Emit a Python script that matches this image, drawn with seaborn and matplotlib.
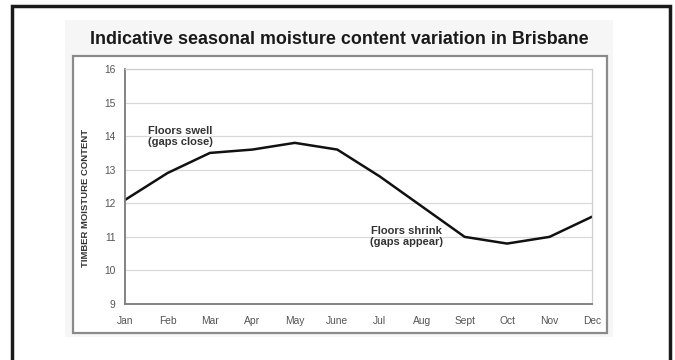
import matplotlib
matplotlib.use("Agg")
import matplotlib.pyplot as plt
from matplotlib.patches import Rectangle
import seaborn as sns
import pandas as pd

# --- Data ---
months = ["Jan", "Feb", "Mar", "Apr", "May", "June",
          "Jul", "Aug", "Sept", "Oct", "Nov", "Dec"]
moisture = [12.1, 12.9, 13.5, 13.6, 13.8, 13.6,
            12.8, 11.9, 11.0, 10.8, 11.0, 11.6]
y_ticks = [9, 10, 11, 12, 13, 14, 15, 16]

title = "Indicative seasonal moisture content variation in Brisbane"
y_label = "TIMBER MOISTURE CONTENT"
note_swell = "Floors swell\n(gaps close)"
note_shrink = "Floors shrink\n(gaps appear)"

df = pd.DataFrame({"month": months, "moisture": moisture})

sns.set_style("white")
plt.rcParams["font.family"] = ["Liberation Sans", "DejaVu Sans"]

W, H = 675, 360
fig = plt.figure(figsize=(W / 100, H / 100), dpi=100)
fig.patch.set_facecolor("white")

def box(x0, y0, x1, y1, **kw):
    # pixel coords (top-left origin) -> figure fraction
    r = Rectangle((x0 / W, 1 - y1 / H), (x1 - x0) / W, (y1 - y0) / H,
                  transform=fig.transFigure, **kw)
    fig.patches.append(r)

# faint grey backdrop, grey chart frame, black outer border
box(65, 20, 613, 337, facecolor="#f6f6f6", edgecolor="none", zorder=0)
box(73, 56, 607, 333, facecolor="white", edgecolor="#8a8a8a", lw=1.6, zorder=1)
box(12, 6, 670, 380, facecolor="none", edgecolor="#1a1a1a", lw=2.5, zorder=2)

ax = fig.add_axes([125 / W, 1 - 304 / H, (592 - 125) / W, (304 - 69) / H])
ax.set_facecolor("white")
ax.set_zorder(3)

ax.grid(axis="y", color="#d9d9d9", lw=0.9)
ax.set_axisbelow(True)

sns.lineplot(data=df, x="month", y="moisture", ax=ax, color="#111111",
             lw=1.8, sort=False)

ax.set_xlim(0, len(months) - 1)
ax.set_ylim(min(y_ticks), max(y_ticks))
ax.set_yticks(y_ticks)
ax.set_xticks(range(len(months)))
ax.set_xticklabels(months)
ax.set_xlabel("")
ax.set_ylabel(y_label, fontweight="bold", fontsize=6.8, color="#333333")
ax.yaxis.set_label_coords(-0.075, 0.45)

for side in ["left", "bottom"]:
    ax.spines[side].set_color("#7a7a7a")
    ax.spines[side].set_linewidth(1.3)
for side in ["top", "right"]:
    ax.spines[side].set_color("#cfcfcf")
    ax.spines[side].set_linewidth(0.9)

ax.tick_params(axis="both", direction="out", length=3, width=1,
               color="#7a7a7a", labelcolor="#555555", labelsize=7.4, pad=4)
ax.tick_params(axis="x", pad=6)

ax.text(0.54, 13.98, note_swell, fontweight="bold",
        fontsize=8, color="#333333", va="center", ha="left",
        linespacing=1.1)
ax.text(6.62, 11.0, note_shrink, fontweight="bold",
        fontsize=8, color="#333333", va="center", ha="center",
        linespacing=1.1)

fig.text(339 / W, 1 - 39 / H, title, fontweight="bold",
         fontsize=12.9, color="#1a1a1a", ha="center", va="center")

fig.savefig("out.png", dpi=100)
